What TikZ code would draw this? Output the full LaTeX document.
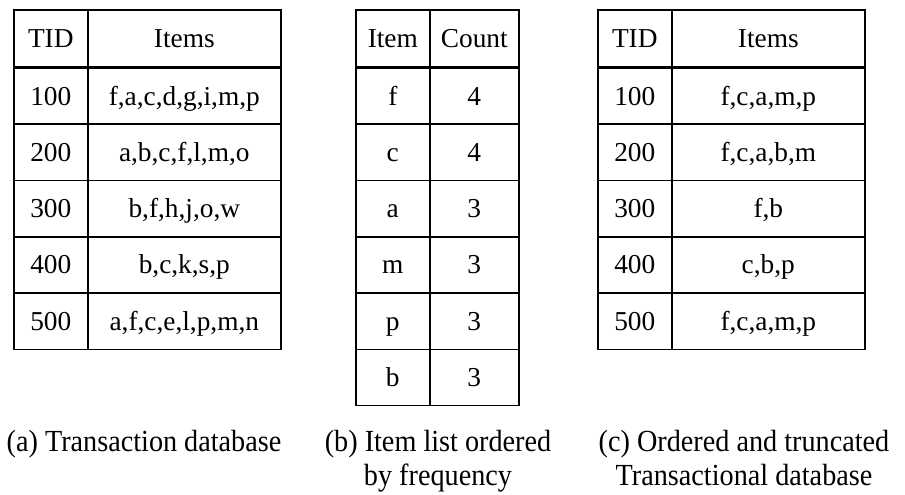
\documentclass[tikz,border=0pt]{standalone}
\usepackage{fontspec}
\setmainfont{Liberation Serif}
\newfontfamily\capfont[FakeStretch=0.92]{Liberation Serif}
\begin{document}
\begin{tikzpicture}[x=0.75pt,y=-0.75pt,
  cell/.style={draw,line width=1.2pt,inner sep=0pt,anchor=north west,
    text height=18pt,text depth=4.4pt,
    font=\fontsize{20.5}{24}\selectfont},
  narrow/.style={cell,minimum width=74*0.75pt},
  wide/.style={cell,minimum width=193*0.75pt},
  countcol/.style={cell,minimum width=89*0.75pt},
  head/.style={minimum height=57*0.75pt},
  body/.style={minimum height=56.3*0.75pt},
  caption/.style={align=center,anchor=north,inner sep=0pt,
    font=\capfont\fontsize{23}{25.5}\selectfont}]
\useasboundingbox (0,0) rectangle (905,495);

% (a) transaction database
\node[narrow,head] (a-h1) at (13,9) {TID};
\node[wide,head] (a-h2) at (87,9) {Items};
\foreach \t/\s [count=\i] in {100/{f,a,c,d,g,i,m,p},200/{a,b,c,f,l,m,o},300/{b,f,h,j,o,w},400/{b,c,k,s,p},500/{a,f,c,e,l,p,m,n}}{
  \node[narrow,body] (a-\i-1) at (13,{67+(\i-1)*56.3}) {\t};
  \node[wide,body] (a-\i-2) at (87,{67+(\i-1)*56.3}) {\s};
}

% (b) item list ordered by frequency
\node[narrow,head] (b-h1) at (355,9) {Item};
\node[countcol,head] (b-h2) at (429,9) {Count};
\foreach \t/\s [count=\i] in {f/4,c/4,a/3,m/3,p/3,b/3}{
  \node[narrow,body] (b-\i-1) at (355,{67+(\i-1)*56.3}) {\t};
  \node[countcol,body] (b-\i-2) at (429,{67+(\i-1)*56.3}) {\s};
}

% (c) ordered and truncated database
\node[narrow,head] (c-h1) at (597,9) {TID};
\node[wide,head] (c-h2) at (671,9) {Items};
\foreach \t/\s [count=\i] in {100/{f,c,a,m,p},200/{f,c,a,b,m},300/{f,b},400/{c,b,p},500/{f,c,a,m,p}}{
  \node[narrow,body] (c-\i-1) at (597,{67+(\i-1)*56.3}) {\t};
  \node[wide,body] (c-\i-2) at (671,{67+(\i-1)*56.3}) {\s};
}

% captions
\node[caption] (cap-a) at (144,430) {(a) Transaction database};
\node[caption] (cap-b) at (438,430) {(b) Item list ordered\\by frequency};
\node[caption] (cap-c) at (744,430) {(c) Ordered and truncated\\Transactional database};
\end{tikzpicture}
\end{document}
